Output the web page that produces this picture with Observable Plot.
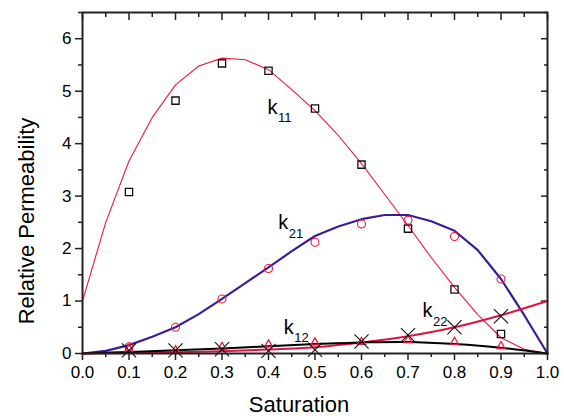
<!DOCTYPE html>
<html>
<head>
<meta charset="utf-8">
<script src="https://cdn.jsdelivr.net/npm/d3@7"></script>
<script src="https://cdn.jsdelivr.net/npm/@observablehq/plot@0.6"></script>
<style>
  body { margin: 0; background: #fff; }
</style>
</head>
<body>
<div id="chart"></div>
<script>
// Saturation values at which the simulated permeabilities were sampled
const saturation = [0.1, 0.2, 0.3, 0.4, 0.5, 0.6, 0.7, 0.8, 0.9];
const k11Sim = [3.08, 4.82, 5.53, 5.39, 4.67, 3.60, 2.38, 1.22, 0.37];
const k21Sim = [0.13, 0.50, 1.04, 1.62, 2.12, 2.47, 2.54, 2.23, 1.42];
const k12Sim = [0.09, 0.06, 0.125, 0.17, 0.21, 0.22, 0.25, 0.22, 0.14];
const k22Sim = [0.06, 0.06, 0.08, 0.05, 0.07, 0.23, 0.35, 0.50, 0.71];

// Fitted curves
const satFine = [0, 0.05, 0.1, 0.15, 0.2, 0.25, 0.3, 0.35, 0.4, 0.45, 0.5,
                 0.55, 0.6, 0.65, 0.7, 0.75, 0.8, 0.85, 0.9, 0.95, 1.0];
const k11Fit = [1.0, 2.50, 3.67, 4.50, 5.12, 5.48, 5.63, 5.60, 5.41, 5.03, 4.63,
                4.16, 3.62, 3.03, 2.44, 1.83, 1.26, 0.74, 0.30, 0.08, 0.0];
const k21Fit = [0, 0.05, 0.16, 0.32, 0.50, 0.75, 1.04, 1.34, 1.64, 1.95, 2.24,
                2.42, 2.56, 2.64, 2.64, 2.52, 2.34, 1.97, 1.42, 0.73, 0];
const satCoarse = [0, 0.1, 0.2, 0.3, 0.4, 0.5, 0.6, 0.7, 0.8, 0.9, 1.0];
const k12Fit = [0, 0.03, 0.06, 0.095, 0.14, 0.18, 0.21, 0.22, 0.18, 0.11, 0];
const k22Fit = [0, 0.01, 0.025, 0.045, 0.075, 0.12, 0.21, 0.33, 0.50, 0.73, 1.0];

// Curve labels (k with subscript)
const labelSub = ["11", "21", "12", "22"];
const labelX = [0.398, 0.421, 0.433, 0.731];
const labelY = [4.57, 2.37, 0.38, 0.695];

// Axis ticks
const xMajor = [0, 0.1, 0.2, 0.3, 0.4, 0.5, 0.6, 0.7, 0.8, 0.9, 1.0];
const xMinor = [0.05, 0.15, 0.25, 0.35, 0.45, 0.55, 0.65, 0.75, 0.85, 0.95];
const yMajor = [0, 1, 2, 3, 4, 5, 6];
const yMinor = [0.5, 1.5, 2.5, 3.5, 4.5, 5.5, 6.5];

const ink = "#222";
const red = "#e8193f";
const purple = "#3b1c94";

const chart = Plot.plot({
  width: 564,
  height: 416,
  marginLeft: 82,
  marginRight: 17,
  marginTop: 12,
  marginBottom: 63,
  style: {fontFamily: "'Liberation Sans', Arial, sans-serif", fontSize: "17px", color: "#000", background: "#fff"},
  x: {domain: [0, 1]},
  y: {domain: [0, 6.5]},
  marks: [
    // bottom axis: outward ticks with labels
    Plot.axisX(xMajor, {anchor: "bottom", tickSize: 7, tickPadding: 5, tickFormat: d3.format(".1f"), fontSize: 17, stroke: ink, strokeWidth: 1.5, label: null}),
    Plot.axisX(xMinor, {anchor: "bottom", tickSize: 4, fill: "none", stroke: ink, strokeWidth: 1.5, label: null}),
    // top axis: inward ticks only
    Plot.axisX(xMajor, {anchor: "top", tickSize: -7, fill: "none", stroke: ink, strokeWidth: 1.5, label: null}),
    Plot.axisX(xMinor, {anchor: "top", tickSize: -4, fill: "none", stroke: ink, strokeWidth: 1.5, label: null}),
    // left axis
    Plot.axisY(yMajor, {anchor: "left", tickSize: 7, tickPadding: 4, tickFormat: d3.format("d"), fontSize: 17, stroke: ink, strokeWidth: 1.5, label: null}),
    Plot.axisY(yMinor, {anchor: "left", tickSize: 4, fill: "none", stroke: ink, strokeWidth: 1.5, label: null}),
    // right axis: inward ticks only
    Plot.axisY(yMajor, {anchor: "right", tickSize: -7, fill: "none", stroke: ink, strokeWidth: 1.5, label: null}),
    Plot.axisY(yMinor, {anchor: "right", tickSize: -4, fill: "none", stroke: ink, strokeWidth: 1.5, label: null}),

    // fitted curves
    Plot.line(k11Fit, {x: satFine, y: k11Fit, stroke: red, strokeWidth: 1.1}),
    Plot.line(k21Fit, {x: satFine, y: k21Fit, stroke: purple, strokeWidth: 2.2}),
    Plot.line(k22Fit, {x: satCoarse, y: k22Fit, stroke: "#e0123e", strokeWidth: 2, curve: "catmull-rom"}),
    Plot.line(k12Fit, {x: satCoarse, y: k12Fit, stroke: "#000", strokeWidth: 2, curve: "catmull-rom"}),

    // simulated points
    Plot.dot(saturation, {x: saturation, y: k11Sim, symbol: "square", r: 4.1, stroke: "#111", strokeWidth: 1.3, fill: "none"}),
    Plot.dot(saturation, {x: saturation, y: k21Sim, symbol: "circle", r: 4, stroke: red, strokeWidth: 1.1, fill: "none"}),
    Plot.dot(saturation, {x: saturation, y: k12Sim, symbol: "triangle", r: 3, stroke: red, strokeWidth: 1.3, fill: "none"}),
    Plot.dot(saturation, {x: saturation, y: k22Sim, symbol: "times", r: 6.5, stroke: "#111", strokeWidth: 1.1}),

    // curve labels
    Plot.text(labelSub, {x: labelX, y: labelY, text: () => "k", fontSize: 20, textAnchor: "start", lineAnchor: "bottom", fill: "#000"}),
    Plot.text(labelSub, {x: labelX, y: labelY, text: labelSub, fontSize: 13, textAnchor: "start", lineAnchor: "bottom", dx: 10.5, dy: 8.5, fill: "#000"}),

    // axis titles
    Plot.text(["Saturation"], {frameAnchor: "bottom", dx: -16, dy: 58.7, textAnchor: "middle", lineAnchor: "bottom", fontSize: 22, fill: "#000"}),
    Plot.text(["Relative Permeability"], {frameAnchor: "left", rotate: -90, dx: -49, dy: 38, textAnchor: "middle", lineAnchor: "bottom", fontSize: 22, fill: "#000"}),

    Plot.frame({stroke: ink, strokeWidth: 2})
  ]
});

document.getElementById("chart").appendChild(chart);
</script>
</body>
</html>
